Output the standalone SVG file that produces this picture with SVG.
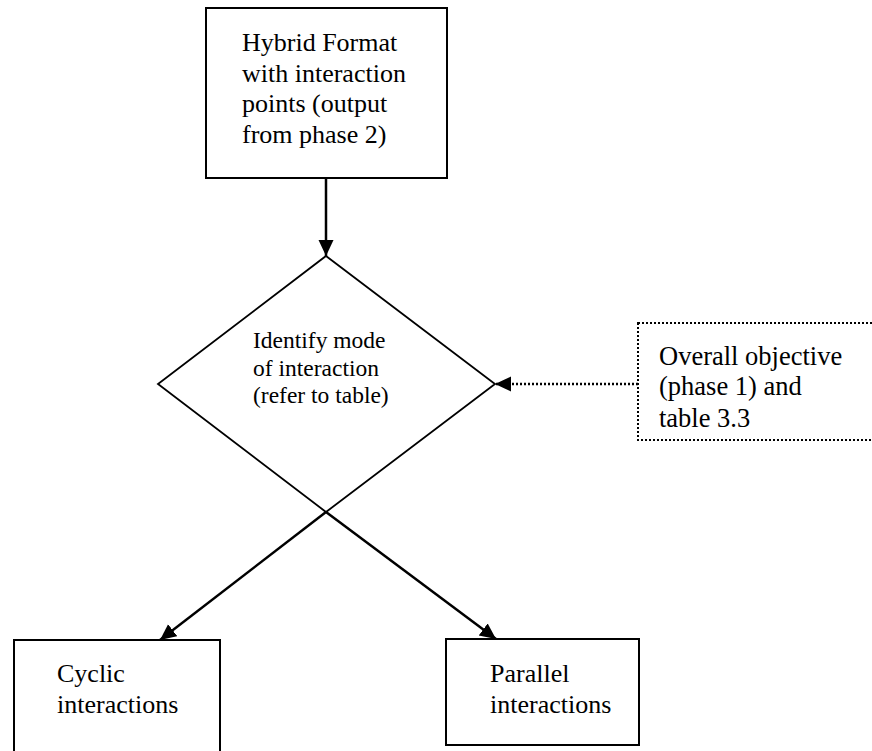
<svg xmlns="http://www.w3.org/2000/svg" width="872" height="751" viewBox="0 0 872 751">
<style>
.box{fill:#fff;stroke:#000;stroke-width:2}
.dbox{fill:#fff;stroke:#000;stroke-width:2;stroke-dasharray:2 2}
.dia{fill:none;stroke:#000;stroke-width:1.8}
.edge{fill:none;stroke:#000;stroke-width:2.5}
.dedge{fill:none;stroke:#000;stroke-width:2.5;stroke-dasharray:2 2}
</style>
<defs>
<marker id="ah" markerUnits="userSpaceOnUse" markerWidth="16" markerHeight="16" refX="16" refY="7.5" orient="auto">
<path d="M0,0 L16,7.5 L0,15 Z" fill="#000"/>
</marker>
</defs>
<g id="hybrid">
<rect class="box" x="206" y="8" width="241" height="170"/>
<text font-family="Liberation Serif, Times New Roman, DejaVu Serif, serif" fill="#000" font-size="26"><tspan x="242" y="51">Hybrid Format</tspan><tspan x="242" y="82">with interaction</tspan><tspan x="242" y="112">points (output</tspan><tspan x="242" y="143">from phase 2)</tspan></text>
</g>
<g id="identify">
<polygon class="dia" points="326,256 495,384 326,512 158,384"/>
<text font-family="Liberation Serif, Times New Roman, DejaVu Serif, serif" fill="#000" font-size="23.5"><tspan x="253" y="348">Identify mode</tspan><tspan x="253" y="376">of interaction</tspan><tspan x="253" y="403">(refer to table)</tspan></text>
</g>
<g id="objective">
<rect class="dbox" x="638" y="323" width="250" height="117"/>
<text font-family="Liberation Serif, Times New Roman, DejaVu Serif, serif" fill="#000" font-size="26.5"><tspan x="659" y="365">Overall objective</tspan><tspan x="659" y="395">(phase 1) and</tspan><tspan x="659" y="427">table 3.3</tspan></text>
</g>
<g id="cyclic">
<rect class="box" x="14" y="640" width="206" height="130"/>
<text font-family="Liberation Serif, Times New Roman, DejaVu Serif, serif" fill="#000" font-size="26"><tspan x="57" y="682">Cyclic</tspan><tspan x="57" y="713">interactions</tspan></text>
</g>
<g id="parallel">
<rect class="box" x="446" y="639" width="193" height="106"/>
<text font-family="Liberation Serif, Times New Roman, DejaVu Serif, serif" fill="#000" font-size="26"><tspan x="490" y="682">Parallel</tspan><tspan x="490" y="713">interactions</tspan></text>
</g>
<g id="connectors">
<line class="edge" x1="326" y1="178" x2="326" y2="256" marker-end="url(#ah)"/>
<line class="dedge" x1="638" y1="384" x2="495" y2="384" marker-end="url(#ah)"/>
<line class="edge" x1="326" y1="512" x2="160" y2="640" marker-end="url(#ah)"/>
<line class="edge" x1="326" y1="512" x2="496" y2="639" marker-end="url(#ah)"/>
</g>
</svg>
